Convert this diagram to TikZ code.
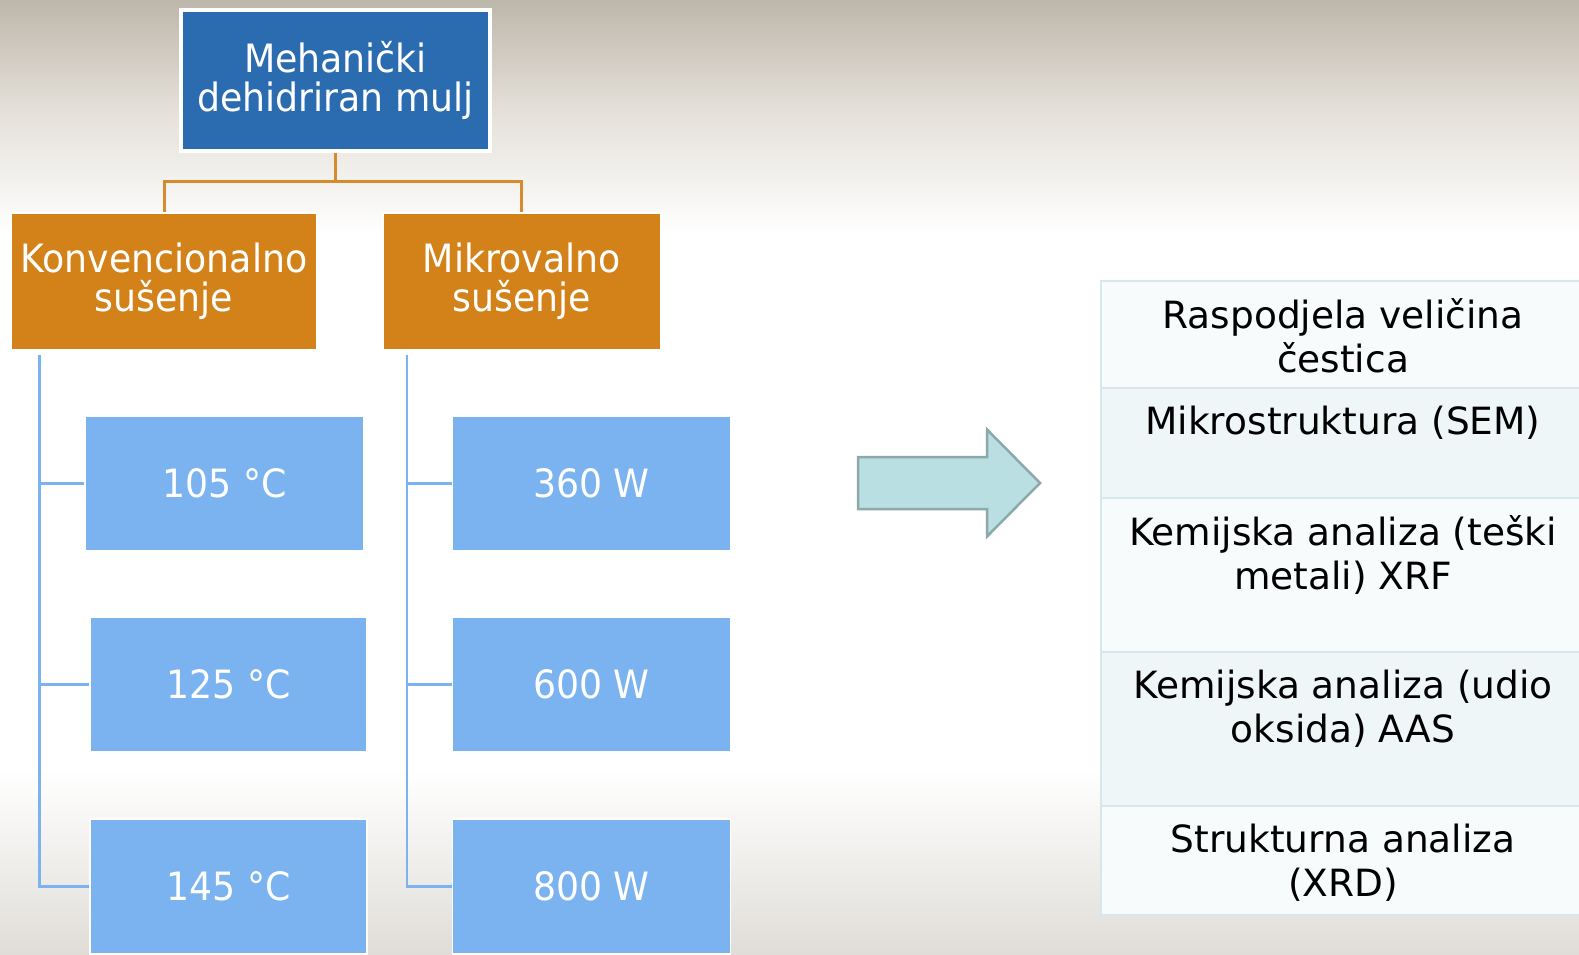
\documentclass[tikz,border=0pt]{standalone}
\usepackage{fontspec}
\setmainfont{DejaVu Sans}
\newfontfamily\boxfont[FakeStretch=0.93]{DejaVu Sans}
\definecolor{topblue}{RGB}{43,108,177}
\definecolor{orng}{RGB}{210,130,25}
\definecolor{oconn}{RGB}{214,140,45}
\definecolor{lblue}{RGB}{122,179,239}
\definecolor{arrowfill}{RGB}{186,223,227}
\definecolor{arrowline}{RGB}{140,168,171}
\definecolor{cellA}{RGB}{247,251,252}
\definecolor{cellB}{RGB}{238,246,248}
\definecolor{cellline}{RGB}{213,233,236}
\definecolor{bgtop}{RGB}{190,183,171}
\definecolor{bgmid}{RGB}{228,224,217}
\definecolor{bgbot}{RGB}{224,221,216}
\begin{document}
\begin{tikzpicture}[x=1pt,y=-1pt,
  boxtext/.style={text=white, align=center, inner sep=0pt, font=\boxfont\fontsize{39}{39}\selectfont},
  topbox/.style={boxtext, draw=white, line width=4pt, fill=topblue, minimum width=309pt, minimum height=141pt},
  obox/.style={boxtext, draw=white, line width=2pt, fill=orng, minimum height=137pt},
  bbox/.style={boxtext, draw=white, line width=1.5pt, fill=lblue, minimum height=135pt},
  vline/.style={draw=lblue, line width=2.5pt},
  oline/.style={draw=oconn, line width=3pt},
  arrowsty/.style={fill=arrowfill, draw=arrowline, line width=2.5pt, line join=miter},
  cell/.style={draw=cellline, line width=2.5pt, minimum width=484pt, inner sep=0pt},
  celltext/.style={align=center, inner sep=0pt, anchor=north, text=black, font=\fontsize{37.5}{44}\selectfont}]
\useasboundingbox (0,0) rectangle (1579,955);
\clip (0,0) rectangle (1579,955);
% background
\fill[white] (0,0) rectangle (1579,955);
\shade[top color=bgtop, bottom color=bgmid] (0,0) rectangle (1579,110);
\shade[top color=bgmid, bottom color=white] (0,109.5) rectangle (1579,235);
\shade[top color=white, bottom color=bgbot] (0,770) rectangle (1579,955);

% hierarchy
\node[topbox] (top) at (335.5,80.5) {Mehanički\\dehidriran mulj};
\node[obox, minimum width=306pt] (konv) at (164,281.5) {Konvencionalno\\sušenje};
\node[obox, minimum width=278pt] (mikro) at (521.7,281.5) {Mikrovalno\\sušenje};

\node[bbox, minimum width=279pt] (c105) at (224.5,483.5) {105 °C};
\node[bbox, minimum width=277pt] (c125) at (228.6,684.5) {125 °C};
\node[bbox, minimum width=277pt] (c145) at (228.6,886.5) {145 °C};
\node[bbox, minimum width=278pt] (w360) at (591.5,483.5) {360 W};
\node[bbox, minimum width=278pt] (w600) at (591.5,684.5) {600 W};
\node[bbox, minimum width=278pt] (w800) at (591.5,886.5) {800 W};

% orange connectors
\coordinate (hub) at ([yshift=-28pt]top.south);
\draw[oline] (top.south) -- (hub);
\draw[oline] (konv.north) |- (hub) -| (mikro.north);

% blue connectors
\coordinate (kv) at (39.5,355);
\draw[vline] (kv) |- (c145.west);
\draw[vline] (kv |- c105.west) -- (c105.west);
\draw[vline] (kv |- c125.west) -- (c125.west);
\coordinate (mv) at (407,355);
\draw[vline] (mv) |- (w800.west);
\draw[vline] (mv |- w360.west) -- (w360.west);
\draw[vline] (mv |- w600.west) -- (w600.west);

% block arrow
\draw[arrowsty] (858,457) -- (987,457) -- (987,429.5) -- (1040,483) -- (987,536.5) -- (987,509) -- (858,509) -- cycle;

% table
\node[cell, fill=cellA, minimum height=107pt] (r1) at (1343,334.5) {};
\node[cell, fill=cellB, minimum height=110pt] (r2) at (1343,443) {};
\node[cell, fill=cellA, minimum height=154pt] (r3) at (1343,575) {};
\node[cell, fill=cellB, minimum height=154pt] (r4) at (1343,729) {};
\node[cell, fill=cellA, minimum height=109pt] (r5) at (1343,860.5) {};
\node[celltext] (t1) at ([yshift=-19pt]r1.north) {Raspodjela veličina\\čestica};
\node[celltext] (t2) at ([yshift=-19pt]r2.north) {Mikrostruktura (SEM)};
\node[celltext] (t3) at ([yshift=-19pt]r3.north) {Kemijska analiza (teški\\metali) XRF};
\node[celltext] (t4) at ([yshift=-19pt]r4.north) {Kemijska analiza (udio\\oksida) AAS};
\node[celltext] (t5) at ([yshift=-19pt]r5.north) {Strukturna analiza\\(XRD)};
\end{tikzpicture}
\end{document}
